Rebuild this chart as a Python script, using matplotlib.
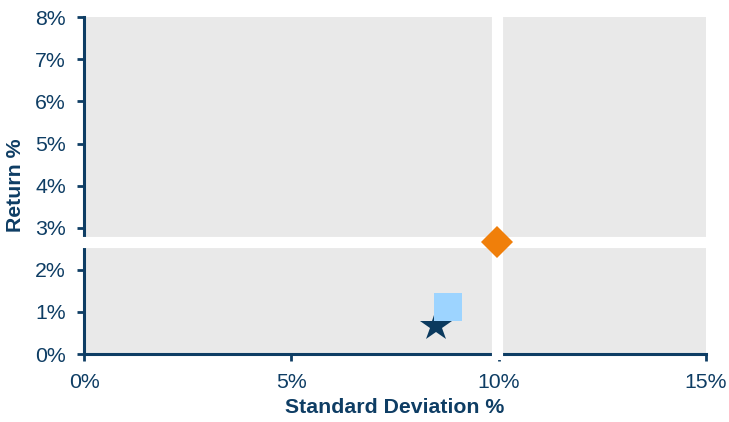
import matplotlib
matplotlib.use("Agg")
import matplotlib.pyplot as plt
from matplotlib.ticker import FuncFormatter

plt.rcParams['font.family'] = ['Liberation Sans', 'DejaVu Sans']

# Risk / return points (percent)
series_names = ["Portfolio", "Peer group", "Benchmark"]
std_dev = [8.50, 8.77, 9.95]
returns = [0.67, 1.12, 2.65]
markers = ["*", "s", "D"]
colors = ["#0b3a5e", "#9dd4ff", "#f07f0a"]
sizes = [24, 20, 16]

x_ticks = [0, 5, 10, 15]
y_ticks = [0, 1, 2, 3, 4, 5, 6, 7, 8]

navy = "#0e3d64"

fig = plt.figure(figsize=(7.29, 4.22), dpi=100)
ax = fig.add_axes([84 / 729, 68 / 422, 622 / 729, 336.7 / 422])
ax.set_facecolor("#e9e9e9")

ax.set_xlim(0, 15)
ax.set_ylim(0, 8)
ax.set_xticks(x_ticks)
ax.set_yticks(y_ticks)
pct = FuncFormatter(lambda v, _: f"{v:.0f}%")
ax.xaxis.set_major_formatter(pct)
ax.yaxis.set_major_formatter(pct)

for side in ("top", "right"):
    ax.spines[side].set_visible(False)
for side in ("left", "bottom"):
    ax.spines[side].set_color(navy)
    ax.spines[side].set_linewidth(2.2)

ax.tick_params(axis="both", colors=navy, labelcolor=navy, labelsize=15.3,
               length=5, width=2)
ax.tick_params(axis="x", pad=9)
ax.tick_params(axis="y", pad=8)

# Crosshair through the benchmark point
bx, by = std_dev[2], returns[2]
ax.axvline(bx, color="white", lw=8, zorder=3, clip_on=False)
ax.axhline(by, color="white", lw=8, zorder=3, clip_on=False)

for x, y, m, c, s in zip(std_dev, returns, markers, colors, sizes):
    ax.plot([x], [y], marker=m, color=c, markersize=s, linestyle="none",
            markeredgewidth=0, zorder=4, clip_on=False)

ax.set_xlabel("Standard Deviation %", fontsize=15.3, fontweight="bold",
              color=navy, labelpad=4)
ax.set_ylabel("Return %", fontsize=15.3, fontweight="bold", color=navy,
              labelpad=7)

fig.savefig("out.png", dpi=100)
